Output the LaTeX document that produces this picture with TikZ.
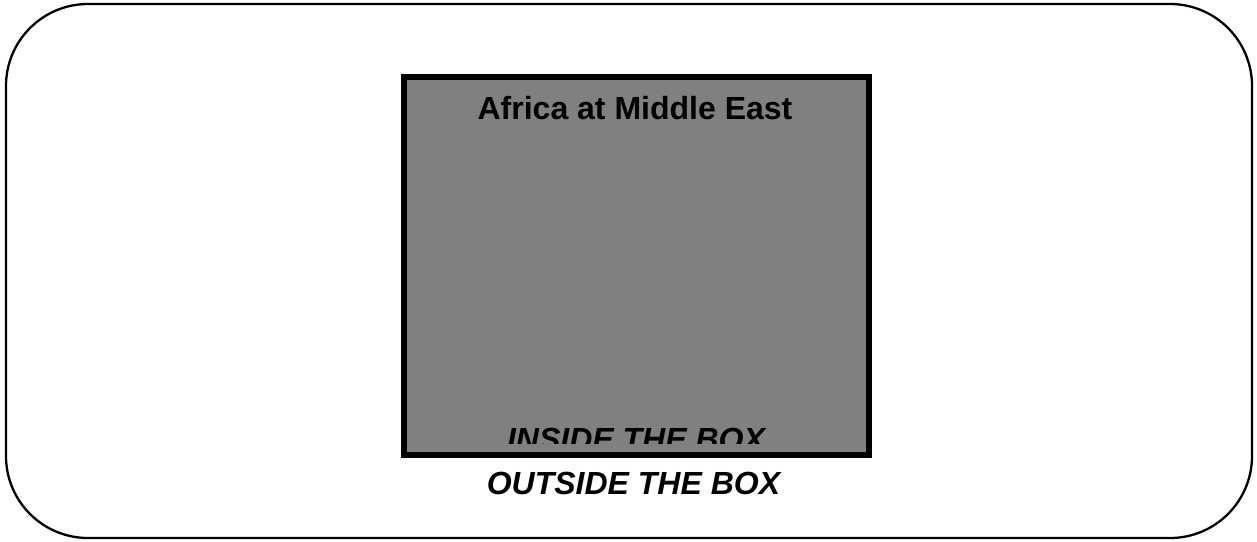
\documentclass[tikz,border=0pt]{standalone}
\usepackage{fontspec}
\setmainfont{Liberation Sans}
\begin{document}
\begin{tikzpicture}[x=1pt,y=-1pt,
  frame/.style={draw=black,line width=2.3pt,rounded corners=82pt},
  graybox/.style={draw=black,fill=black!50,line width=6pt},
  label/.style={font=\fontsize{32}{36}\selectfont\bfseries,inner sep=0pt,anchor=base},
  ilabel/.style={font=\fontsize{32}{36}\selectfont\bfseries\itshape,inner sep=0pt,anchor=base}]
\useasboundingbox (0,0) rectangle (1257,541);
\draw[frame] (6,4) rectangle (1252,538);
\draw[graybox] (404,77) rectangle (869,455);
\node[label] (title) at (635,119) {Africa at Middle East};
\begin{scope}
  \clip (407,80) rectangle (866,443);
  \node[ilabel] (inside) at (636,450) {INSIDE THE BOX};
\end{scope}
\node[ilabel] (outside) at (633.5,494) {OUTSIDE THE BOX};
\end{tikzpicture}
\end{document}
